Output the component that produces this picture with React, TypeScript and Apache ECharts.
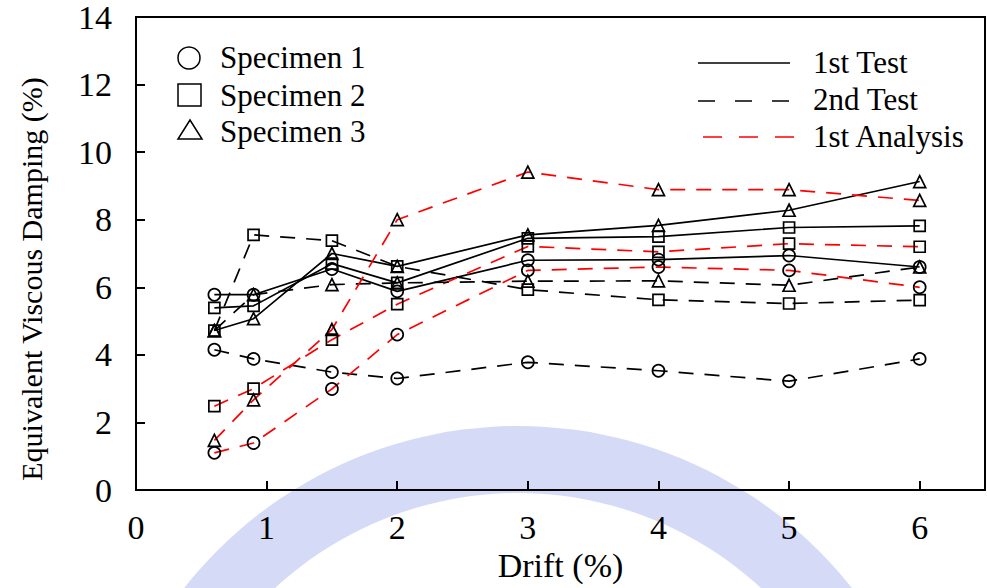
import React, { useEffect, useRef } from "react";
import * as echarts from "echarts";

const drift = [0.6, 0.9, 1.5, 2, 3, 4, 5, 6];
const xTicks = [0, 1, 2, 3, 4, 5, 6];
const yTicks = [0, 2, 4, 6, 8, 10, 12, 14];

const s1Test1 = [5.78, 5.78, 6.54, 5.88, 6.8, 6.82, 6.94, 6.6];
const s1Test2 = [4.15, 3.88, 3.49, 3.3, 3.78, 3.53, 3.22, 3.88];
const s1Anal = [1.1, 1.39, 2.99, 4.6, 6.5, 6.6, 6.5, 6.0];
const s2Test1 = [5.39, 5.45, 6.7, 6.13, 7.45, 7.5, 7.77, 7.82];
const s2Test2 = [4.72, 7.55, 7.38, 6.62, 5.93, 5.63, 5.52, 5.62];
const s2Anal = [2.48, 3.0, 4.45, 5.5, 7.21, 7.05, 7.29, 7.2];
const s3Test1 = [4.72, 5.07, 7.0, 6.62, 7.55, 7.83, 8.28, 9.13];
const s3Test2 = [4.72, 5.78, 6.08, 6.13, 6.18, 6.19, 6.06, 6.6];
const s3Anal = [1.47, 2.67, 4.75, 8.0, 9.41, 8.89, 8.89, 8.57];

const specimenNames = ["Specimen 1", "Specimen 2", "Specimen 3"];
const testNames = ["1st Test", "2nd Test", "1st Analysis"];
const yAxisTitle = "Equivalent Viscous Damping (%)";
const xAxisTitle = "Drift (%)";

const FONT = "'Liberation Serif', 'Times New Roman', serif";

export default function App() {
  const ref = useRef<HTMLDivElement>(null);
  useEffect(() => {
    if (!ref.current) return;
    const chart = echarts.init(ref.current, undefined, { renderer: "svg" });

    const symbols = ["circle", "rect", "triangle"];
    const symSizes = [12, 11, 12];
    const lineStyles: any[] = [
      { color: "#000", width: 1.7, type: "solid" },
      { color: "#000", width: 1.7, type: [15, 11] },
      { color: "#ff0000", width: 1.7, type: [15, 11] },
    ];
    const groups = [
      [s1Test1, s1Test2, s1Anal],
      [s2Test1, s2Test2, s2Anal],
      [s3Test1, s3Test2, s3Anal],
    ];
    const series: any[] = [];
    groups.forEach((g, si) => {
      g.forEach((vals, ti) => {
        series.push({
          type: "line",
          name: specimenNames[si] + " " + testNames[ti],
          data: drift.map((x, i) => [x, vals[i]]),
          symbol: symbols[si],
          symbolSize: symSizes[si],
          showAllSymbol: true,
          lineStyle: lineStyles[ti],
          itemStyle: { color: "rgba(0,0,0,0)", borderColor: "#000", borderWidth: 1.7 },
          emphasis: { disabled: true },
          z: 3,
        });
      });
    });

    const legendLeft = [
      { type: "circle", shape: { cx: 189, cy: 58, r: 11 }, style: { fill: "none", stroke: "#000", lineWidth: 1.5 } },
      { type: "rect", shape: { x: 178, y: 84, width: 23, height: 22 }, style: { fill: "none", stroke: "#000", lineWidth: 1.5 } },
      { type: "polygon", shape: { points: [[178, 139], [202, 139], [190, 120]] }, style: { fill: "none", stroke: "#000", lineWidth: 1.5 } },
    ];
    const midL = [57, 95, 131];
    const midR = [62, 99, 136];

    const graphic: any[] = [
      {
        type: "ring",
        shape: { cx: 518, cy: 851, r: 425, r0: 358 },
        style: { fill: "rgba(150,165,235,0.4)" },
        silent: true,
        z: -10,
      },
      ...legendLeft.map((e) => ({ ...e, silent: true, z: 10 })),
      ...specimenNames.map((n, i) => ({
        type: "text",
        x: 220,
        y: midL[i],
        silent: true,
        z: 10,
        style: { text: n, fill: "#000", font: `31px ${FONT}`, verticalAlign: "middle", align: "left" },
      })),
      { type: "line", shape: { x1: 698, y1: 63, x2: 790, y2: 63 }, style: { stroke: "#000", lineWidth: 1.7 }, z: 10 },
      { type: "line", shape: { x1: 698, y1: 101, x2: 790, y2: 101 }, style: { stroke: "#000", lineWidth: 1.7, lineDash: [17, 20] }, z: 10 },
      { type: "line", shape: { x1: 703, y1: 137, x2: 795, y2: 137 }, style: { stroke: "#ff0000", lineWidth: 1.7, lineDash: [19, 17] }, z: 10 },
      ...testNames.map((n, i) => ({
        type: "text",
        x: 813,
        y: midR[i],
        silent: true,
        z: 10,
        style: { text: n, fill: "#000", font: `31px ${FONT}`, verticalAlign: "middle", align: "left" },
      })),
      {
        type: "text",
        x: 31,
        y: 279,
        rotation: Math.PI / 2,
        silent: true,
        z: 10,
        style: { text: yAxisTitle, fill: "#000", font: `30px ${FONT}`, verticalAlign: "middle", align: "center" },
      },
    ];

    chart.setOption({
      animation: false,
      backgroundColor: "#fff",
      textStyle: { fontFamily: FONT },
      grid: { left: 136, right: 2, top: 16, bottom: 98, show: true, borderColor: "#000", borderWidth: 2, backgroundColor: "transparent" },
      xAxis: {
        type: "value",
        min: xTicks[0],
        max: 6.5,
        interval: 1,
        name: xAxisTitle,
        nameLocation: "middle",
        nameGap: 57,
        nameTextStyle: { fontSize: 34, color: "#000", fontFamily: FONT },
        axisLine: { show: true, lineStyle: { color: "#000", width: 2 } },
        axisTick: { show: true, inside: true, length: 9, lineStyle: { color: "#000", width: 2 } },
        axisLabel: {
          fontSize: 34,
          color: "#000",
          fontFamily: FONT,
          margin: 20,
          showMaxLabel: false,
          formatter: (v: number) => (xTicks.includes(v) ? String(v) : ""),
        },
        splitLine: { show: false },
      },
      yAxis: {
        type: "value",
        min: yTicks[0],
        max: yTicks[yTicks.length - 1],
        interval: 2,
        axisLine: { show: true, lineStyle: { color: "#000", width: 2 } },
        axisTick: { show: true, inside: true, length: 9, lineStyle: { color: "#000", width: 2 } },
        axisLabel: { fontSize: 34, color: "#000", fontFamily: FONT, margin: 24 },
        splitLine: { show: false },
      },
      graphic,
      series,
    });
    return () => chart.dispose();
  }, []);
  return <div ref={ref} style={{ width: 987, height: 588, position: "absolute", left: 0, top: 0 }} />;
}
